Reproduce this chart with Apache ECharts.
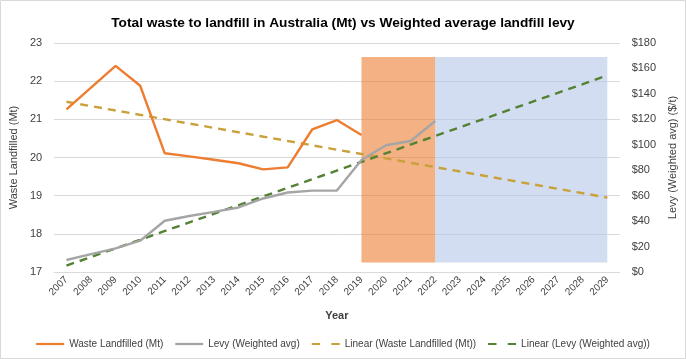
<!DOCTYPE html>
<html><head><meta charset="utf-8">
<script src="https://cdn.jsdelivr.net/npm/echarts@6/dist/echarts.min.js"></script>
<style>html,body{margin:0;padding:0;background:#fff}#c{width:686px;height:359px}</style>
</head><body><div id="c"></div>
<script>
// ---- data ----
const years = ['2007','2008','2009','2010','2011','2012','2013','2014','2015','2016','2017','2018','2019','2020','2021','2022','2023','2024','2025','2026','2027','2028','2029'];
const wasteLandfilled = [21.26, 21.83, 22.40, 21.88, 20.11, 20.03, 19.94, 19.85, 19.69, 19.74, 20.74, 20.98, 20.59];
const levyWeightedAvg = [9.4, 14.0, 18.6, 24.6, 40.3, 44.0, 47.3, 50.7, 57.8, 62.5, 64.0, 64.0, 88.0, 99.6, 103.0, 118.7];
// linear trendline end points (first year, last year)
const wasteTrendEnds = [21.46, 18.95];
const levyTrendEnds = [5.0, 154.5];
const leftAxisTicks = [17, 18, 19, 20, 21, 22, 23];
const rightAxisTicks = [0, 20, 40, 60, 80, 100, 120, 140, 160, 180];
const shadeHistoricYears = ['2019', '2022'];
const shadeForecastYears = ['2022', '2029'];
const shadeValueRange = [17.25, 22.63];
const seriesNames = ['Waste Landfilled (Mt)', 'Levy (Weighted avg)', 'Linear (Waste Landfilled (Mt))', 'Linear (Levy (Weighted avg))'];

function pad(arr) { return years.map((_, i) => i < arr.length ? arr[i] : null); }
function trend(ends) { return years.map((_, i) => i === 0 ? ends[0] : (i === years.length - 1 ? ends[1] : null)); }

const SOLID_ICON = 'path://M0,0H30V2.4H0Z';
const DASH_ICON = 'path://M0,0H9V2.4H0Z M21,0H30V2.4H21Z';
const legendIcons = [SOLID_ICON, SOLID_ICON, DASH_ICON, DASH_ICON];

const FONT = "'Liberation Sans', Arial, sans-serif";
const chart = echarts.init(document.getElementById('c'), null, {renderer: 'canvas'});
chart.setOption({
  animation: false,
  backgroundColor: '#fff',
  textStyle: {fontFamily: FONT},
  title: {
    text: 'Total waste to landfill in Australia (Mt) vs Weighted average landfill levy',
    left: 'center', top: 11,
    textStyle: {fontFamily: FONT, fontSize: 13.7, fontWeight: 'bold', color: '#000'}
  },
  graphic: [{type: 'rect', shape: {x: 0.5, y: 0.5, width: 685, height: 358}, style: {fill: 'none', stroke: '#D9D9D9', lineWidth: 1}, silent: true}],
  grid: {left: 50, right: 62, top: 43, bottom: 87},
  legend: {
    left: 'center', top: 334, itemWidth: 28, itemHeight: 2.4, itemGap: 12,
    textStyle: {fontFamily: FONT, fontSize: 10, color: '#404040'},
    data: seriesNames.map((n, i) => ({name: n, icon: legendIcons[i]}))
  },
  xAxis: {
    type: 'category', data: years, boundaryGap: true,
    name: 'Year', nameLocation: 'middle', nameGap: 38,
    nameTextStyle: {fontFamily: FONT, fontSize: 11, color: '#404040', fontWeight: 'bold'},
    axisLine: {lineStyle: {color: '#D9D9D9'}}, axisTick: {show: false},
    axisLabel: {rotate: 45, interval: 0, fontSize: 10, color: '#404040', margin: 6}
  },
  yAxis: [{
    type: 'value', min: leftAxisTicks[0], max: leftAxisTicks[leftAxisTicks.length - 1], interval: leftAxisTicks[1] - leftAxisTicks[0],
    name: 'Waste Landfilled (Mt)', nameLocation: 'middle', nameGap: 29, nameRotate: 90,
    nameTextStyle: {fontFamily: FONT, fontSize: 11, color: '#404040'},
    axisLine: {show: false}, axisTick: {show: false},
    axisLabel: {fontSize: 11, color: '#404040', margin: 12},
    splitLine: {lineStyle: {color: '#D9D9D9'}}
  }, {
    type: 'value', min: rightAxisTicks[0], max: rightAxisTicks[rightAxisTicks.length - 1], interval: rightAxisTicks[1] - rightAxisTicks[0],
    name: 'Levy (Weighted avg) ($/t)', nameLocation: 'middle', nameGap: 46, nameRotate: 90,
    nameTextStyle: {fontFamily: FONT, fontSize: 11, color: '#404040'},
    axisLine: {show: false}, axisTick: {show: false},
    axisLabel: {fontSize: 11, color: '#404040', margin: 12, formatter: v => '$' + v},
    splitLine: {show: false}
  }],
  series: [
    {name: seriesNames[0], type: 'line', yAxisIndex: 0, data: pad(wasteLandfilled), symbol: 'none', z: 3,
     lineStyle: {color: '#ED7D31', width: 2.4}, itemStyle: {color: '#ED7D31'}},
    {name: seriesNames[1], type: 'line', yAxisIndex: 1, data: pad(levyWeightedAvg), symbol: 'none', z: 3,
     lineStyle: {color: '#A5A5A5', width: 2.4}, itemStyle: {color: '#A5A5A5'}},
    {name: seriesNames[2], type: 'line', yAxisIndex: 0, data: trend(wasteTrendEnds), connectNulls: true, symbol: 'none', z: 2,
     lineStyle: {color: '#C9A13A', width: 2.4, type: [8, 6]}, itemStyle: {color: '#C9A13A'}},
    {name: seriesNames[3], type: 'line', yAxisIndex: 1, data: trend(levyTrendEnds), connectNulls: true, symbol: 'none', z: 2,
     lineStyle: {color: '#548235', width: 2.4, type: [8, 6]}, itemStyle: {color: '#548235'}},
    {name: 'shade', type: 'line', yAxisIndex: 0, data: [], z: 10, silent: true,
     markArea: {silent: true, data: [
       [{xAxis: shadeHistoricYears[0], yAxis: shadeValueRange[0], itemStyle: {color: 'rgba(237,125,49,0.6)'}}, {xAxis: shadeHistoricYears[1], yAxis: shadeValueRange[1]}],
       [{xAxis: shadeForecastYears[0], yAxis: shadeValueRange[0], itemStyle: {color: 'rgba(180,199,231,0.6)'}}, {xAxis: shadeForecastYears[1], yAxis: shadeValueRange[1]}]
     ]}}
  ]
});
</script></body></html>
